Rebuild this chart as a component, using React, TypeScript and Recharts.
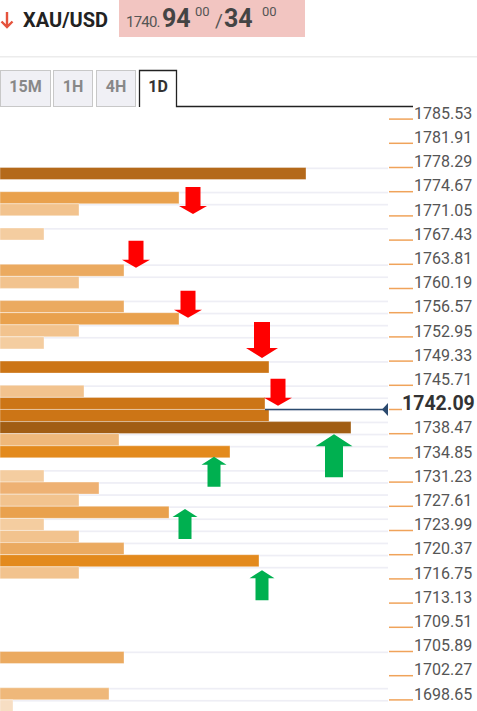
import { BarChart, Bar, XAxis, YAxis, Cell, ReferenceDot, ReferenceLine } from 'recharts';

// price labels on the right axis (one label every two rows)
const tickLabels = [
  '1785.53', '1781.91', '1778.29', '1774.67', '1771.05', '1767.43', '1763.81',
  '1760.19', '1756.57', '1752.95', '1749.33', '1745.71', '1742.09', '1738.47',
  '1734.85', '1731.23', '1727.61', '1723.99', '1720.37', '1716.75', '1713.13',
  '1709.51', '1705.89', '1702.27', '1698.65',
];

// confluence strength of each row, top to bottom
const strength = [
  0, 0, 0, 0, 0, 306, 0, 179, 79, 0,
  44, 0, 0, 124, 79, 0, 124, 179, 79, 44,
  0, 269, 0, 84, 265, 269, 351, 119, 230, 0,
  44, 99, 79, 169, 44, 79, 124, 259, 79, 0,
  0, 0, 0, 0, 0, 124, 0, 0, 109, 13,
];

const rowStep = 1.81;
const currentLevel = '1742.09';
const currentPrice = 1741.2;
const priceTop = 1786.44;
const priceBottom = 1695.93;
const maxStrength = 388;

// resistance (down) and support (up) arrows: strength position, price of the tip, weight
const downArrows = [
  { value: 193, price: 1770.45, weight: 1 },
  { value: 136, price: 1762.4, weight: 1 },
  { value: 188, price: 1754.9, weight: 1 },
  { value: 262, price: 1748.9, weight: 2 },
  { value: 278, price: 1741.75, weight: 1 },
];
const upArrows = [
  { value: 334, price: 1737.5, weight: 2 },
  { value: 214, price: 1734.1, weight: 1 },
  { value: 185, price: 1726.3, weight: 1 },
  { value: 262, price: 1717.15, weight: 1 },
];

const rows = strength.map((v, i) => ({
  row: i,
  value: v,
  price: Number(tickLabels[Math.floor(i / 2)]) - (i % 2) * rowStep,
}));

const shade = (v: number) => {
  if (v < 30) return '#f7dec3';
  if (v < 60) return '#f4cda0';
  if (v < 90) return '#f2c38e';
  if (v < 105) return '#eeb173';
  if (v < 122) return '#efb87a';
  if (v < 150) return '#ebaa60';
  if (v < 200) return '#e9a14d';
  if (v < 262) return '#e38a1d';
  if (v < 290) return '#cc7516';
  if (v < 330) return '#b4691a';
  return '#a15d13';
};

const arrowSize: any = {
  down: { 1: [28, 27, 15, 8], 2: [32, 36, 16, 10] },
  up: { 1: [25, 30, 13, 8], 2: [37, 43, 18, 12] },
};

// tip of the arrow sits on (cx, cy)
const Arrow = ({ cx, cy, dir, weight }: any) => {
  const [hw, len, sw, hh] = arrowSize[dir][weight];
  const s = dir === 'down' ? 1 : -1;
  const d = [
    `M${cx - sw / 2},${cy - s * len}`,
    `L${cx + sw / 2},${cy - s * len}`,
    `L${cx + sw / 2},${cy - s * hh}`,
    `L${cx + hw / 2},${cy - s * hh}`,
    `L${cx},${cy}`,
    `L${cx - hw / 2},${cy - s * hh}`,
    `L${cx - sw / 2},${cy - s * hh}`,
    'Z',
  ].join(' ');
  return <path d={d} fill={dir === 'down' ? '#ff0000' : '#00b050'} />;
};

const LevelTick = ({ x, y, payload }: any) => {
  const i = payload.value;
  if (i % 2 !== 0) return null;
  const label = tickLabels[i / 2];
  const half = 6.05;
  if (label === currentLevel) {
    return (
      <g>
        <line x1={x + 1} x2={x + 14} y1={y + half} y2={y + half} stroke="#f0a35a" strokeWidth={1.5} />
        <path d={`M${x},${y + half - 6.5} L${x - 6},${y + half} L${x},${y + half + 6.5} Z`} fill="#2b4a6e" />
        <text x={x + 14} y={y} dy="0.36em" fontSize={19.5} fontWeight="bold" fill="#333">
          {label}
        </text>
      </g>
    );
  }
  return (
    <g>
      <line x1={x + 1} x2={x + 25} y1={y + half} y2={y + half} stroke="#f0a35a" strokeWidth={1.5} />
      <text x={x + 26} y={y} dy="0.36em" fontSize={16} fill="#555">
        {label}
      </text>
    </g>
  );
};

const RowBg = (p: any) => (
  <rect key={`bg-${p.index}`} x={p.x} y={p.y} width={p.width} height={1.7} fill="#eeeef5" />
);

export default function App() {
  return (
    <div style={{ position: 'absolute', left: 0, top: 0, width: 477, height: 711, background: '#fff', overflow: 'hidden', fontFamily: 'Roboto, sans-serif' }}>
      <svg width={477} height={108} style={{ position: 'absolute', left: 0, top: 0 }} fontFamily="Roboto, sans-serif">
        <path d="M7,12 V27 M1.5,21.5 L7,27 L12.5,21.5" stroke="#e5533d" strokeWidth={2.4} fill="none" />
        <text x={23} y={27} fontSize={20} fontWeight="bold" fill="#222">XAU/USD</text>
        <rect x={119} y={0} width={186} height={37} fill="#f2c5c1" />
        <text x={126} y={27} fontSize={15} letterSpacing={-0.8} fill="#555">1740.</text>
        <text x={162} y={27} fontSize={25} fontWeight="bold" fill="#444">94</text>
        <text x={195} y={16} fontSize={13} fill="#555">00</text>
        <text x={215} y={27} fontSize={19} fill="#555">/</text>
        <text x={224} y={27} fontSize={25} fontWeight="bold" fill="#444">34</text>
        <text x={262} y={16} fontSize={13} fill="#555">00</text>

        <rect x={0} y={56} width={477} height={1.5} fill="#ececec" />

        <rect x={0.5} y={70.5} width={50} height={36} fill="#f0f0f5" stroke="#c8c8c8" />
        <rect x={53.5} y={70.5} width={39} height={36} fill="#f0f0f5" stroke="#c8c8c8" />
        <rect x={96.5} y={70.5} width={39} height={36} fill="#f0f0f5" stroke="#c8c8c8" />
        <path d="M139.5,107 V70.5 H176.5 V106.5 H413" fill="#fff" stroke="#222" strokeWidth={1.3} />
        <text x={25.5} y={92} fontSize={16} fontWeight="bold" fill="#888" textAnchor="middle">15M</text>
        <text x={73} y={92} fontSize={16} fontWeight="bold" fill="#888" textAnchor="middle">1H</text>
        <text x={116} y={92} fontSize={16} fontWeight="bold" fill="#888" textAnchor="middle">4H</text>
        <text x={158} y={92} fontSize={16} fontWeight="bold" fill="#333" textAnchor="middle">1D</text>
      </svg>

      <div style={{ position: 'absolute', left: 0, top: 95 }}>
        <BarChart
          width={477}
          height={617}
          data={rows}
          layout="vertical"
          barCategoryGap={0}
          margin={{ top: 12, right: 0, bottom: 0, left: 0 }}
        >
          <XAxis type="number" domain={[0, maxStrength]} hide allowDataOverflow />
          <YAxis
            type="category"
            dataKey="row"
            orientation="right"
            width={89}
            axisLine={false}
            tickLine={false}
            tickSize={0}
            tickMargin={0}
            interval={0}
            tick={<LevelTick />}
          />
          <YAxis
            yAxisId="price"
            type="number"
            dataKey="price"
            domain={[priceBottom, priceTop]}
            reversed
            hide
            allowDataOverflow
          />
          <Bar dataKey="value" isAnimationActive={false} background={RowBg}>
            {rows.map((r) => (
              <Cell key={r.row} fill={shade(r.value)} stroke="rgba(255,255,255,0.35)" strokeWidth={1} />
            ))}
          </Bar>
          <ReferenceLine
            yAxisId="price"
            segment={[
              { x: strength[24], y: currentPrice },
              { x: maxStrength, y: currentPrice },
            ]}
            stroke="#2b4a6e"
            strokeWidth={1.5}
          />
          {downArrows.map((a, i) => (
            <ReferenceDot
              key={`d${i}`}
              yAxisId="price"
              x={a.value}
              y={a.price}
              r={0}
              shape={(p: any) => <Arrow cx={p.cx} cy={p.cy} dir="down" weight={a.weight} />}
            />
          ))}
          {upArrows.map((a, i) => (
            <ReferenceDot
              key={`u${i}`}
              yAxisId="price"
              x={a.value}
              y={a.price}
              r={0}
              shape={(p: any) => <Arrow cx={p.cx} cy={p.cy} dir="up" weight={a.weight} />}
            />
          ))}
        </BarChart>
      </div>
    </div>
  );
}
